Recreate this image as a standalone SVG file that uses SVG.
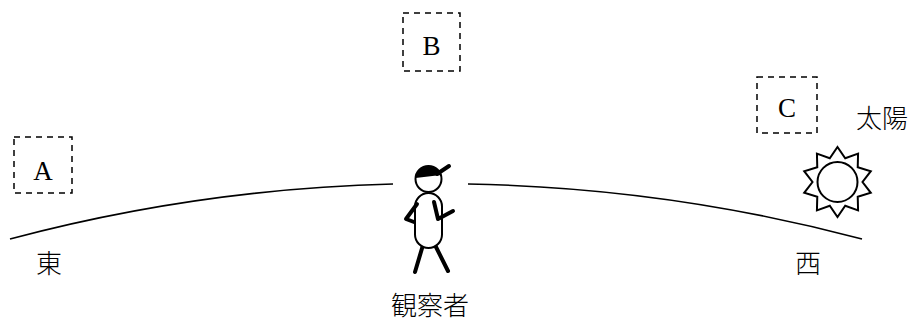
<svg xmlns="http://www.w3.org/2000/svg" width="915" height="322" viewBox="0 0 915 322">
  <style>
    .bg { fill: #ffffff; }
    .sky { fill: none; stroke: #000; stroke-width: 1.6; }
    .pos { fill: none; stroke: #000; stroke-width: 1.5; stroke-dasharray: 6 5; }
    .letter { font-family: "Liberation Serif", "DejaVu Serif", serif; font-size: 27px; fill: #000; text-anchor: middle; }
    .jp { font-family: "Noto Sans CJK JP", "Noto Sans CJK SC", sans-serif; font-size: 26px; font-weight: 300; fill: #000; text-anchor: middle; }
    .outline { fill: #fff; stroke: #000; stroke-width: 2; }
    .limb { fill: none; stroke: #000; stroke-width: 4; stroke-linecap: round; stroke-linejoin: round; }
  </style>
  <rect class="bg" x="0" y="0" width="915" height="322"/>

  <!-- horizon arc, broken behind the observer -->
  <g id="connectors">
    <path class="sky" d="M10,239 A1648,1648 0 0 1 393,184"/>
    <path class="sky" d="M468,184 A1648,1648 0 0 1 862,239"/>
  </g>

  <g id="pos-A">
    <rect class="pos" x="14" y="137" width="58" height="56"/>
    <text class="letter" x="43" y="180">A</text>
  </g>
  <g id="pos-B">
    <rect class="pos" x="403" y="13" width="57" height="58"/>
    <text class="letter" x="431.5" y="55">B</text>
  </g>
  <g id="pos-C">
    <rect class="pos" x="757" y="77" width="60" height="56"/>
    <text class="letter" x="787" y="117">C</text>
  </g>

  <g id="sun">
    <polygon class="outline" stroke-width="1.5" points="837.5,147 845.23,158.22 858.07,153.68 857.73,167.31 870.79,171.18 862.5,182 870.79,192.82 857.73,196.69 858.07,210.32 845.23,205.78 837.5,217 829.77,205.78 816.93,210.32 817.27,196.69 804.21,192.82 812.5,182 804.21,171.18 817.27,167.31 816.93,153.68 829.77,158.22"/>
    <circle class="outline" stroke-width="1.5" cx="837.5" cy="182" r="20"/>
    <text class="jp" x="882" y="128">太陽</text>
  </g>

  <g id="observer">
    <line class="limb" x1="423" y1="245" x2="415" y2="272"/>
    <line class="limb" x1="435" y1="245" x2="448" y2="271"/>
    <rect class="outline" x="415" y="193" width="27" height="55" rx="13.5"/>
    <circle class="outline" cx="428.5" cy="179" r="13"/>
    <path d="M415.5,178 A13,13 0 0 1 440.9,175 Z" fill="#000"/>
    <line class="limb" x1="437" y1="174" x2="449" y2="166"/>
    <polyline class="limb" points="417,204 406,219 414,222"/>
    <polyline class="limb" points="434,202 438,219 453,211"/>
    <text class="jp" x="430" y="315">観察者</text>
  </g>

  <g id="east">
    <text class="jp" x="49" y="273">東</text>
  </g>
  <g id="west">
    <text class="jp" x="808" y="273">西</text>
  </g>
</svg>
